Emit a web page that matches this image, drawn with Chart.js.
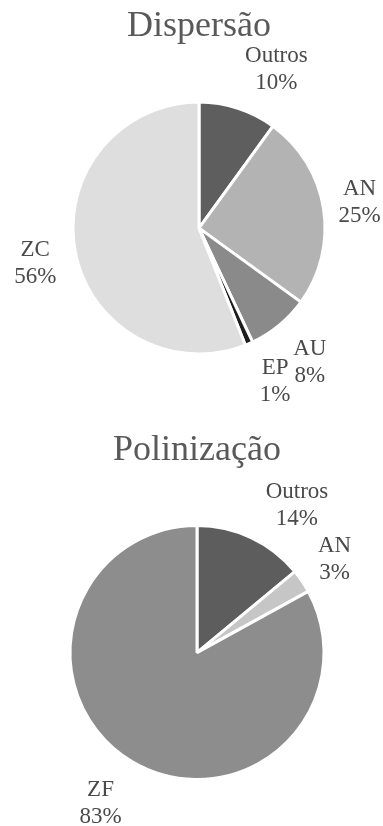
<!DOCTYPE html>
<html lang="pt">
<head>
<meta charset="utf-8">
<title>Dispersão e Polinização</title>
<script src="https://cdn.jsdelivr.net/npm/chart.js@4.4.1/dist/chart.umd.min.js"></script>
<style>
  html, body { margin: 0; padding: 0; background: #ffffff; }
  canvas { display: block; }
</style>
</head>
<body>
<canvas id="dispersao" width="383" height="410"></canvas>
<canvas id="polinizacao" width="383" height="416"></canvas>
<script>
// Síndromes de dispersão (%)
const dispersaoCategorias = ['Outros', 'AN', 'AU', 'EP', 'ZC'];
const dispersaoValores = [10, 25, 8, 1, 56];

// Síndromes de polinização (%)
const polinizacaoCategorias = ['Outros', 'AN', 'ZF'];
const polinizacaoValores = [14, 3, 83];

// Slice fills
const dispersaoCores = ['#5e5e5e', '#b3b3b3', '#8a8a8a', '#1e1e1e', '#dedede'];
const polinizacaoCores = ['#5d5d5d', '#c6c6c6', '#8d8d8d'];

// Label placement: distance from centre (in radii) and angular nudge (degrees)
const dispersaoLabelDist = [1.40, 1.29, 1.38, 1.36, 1.33];
const dispersaoLabelNudge = [8, 0, 0, -3, -1.5];
const polinizacaoLabelDist = [1.40, 1.31, 1.41];
const polinizacaoLabelNudge = [9, 0, 2];

const SERIF = '"Liberation Serif", "Times New Roman", "DejaVu Serif", serif';

// Draws "Name\nNN%" outside each slice
const outsideLabels = {
  id: 'outsideLabels',
  afterDatasetsDraw(chart, args, opts) {
    const ctx = chart.ctx;
    const meta = chart.getDatasetMeta(0);
    const values = chart.data.datasets[0].data;
    ctx.save();
    ctx.font = '23px ' + SERIF;
    ctx.fillStyle = '#4a4a4a';
    ctx.textAlign = 'center';
    ctx.textBaseline = 'middle';
    meta.data.forEach((arc, i) => {
      const p = arc.getProps(['x', 'y', 'startAngle', 'endAngle', 'outerRadius'], true);
      const mid = (p.startAngle + p.endAngle) / 2 + opts.nudge[i] * Math.PI / 180;
      const d = p.outerRadius * opts.dist[i];
      const cx = p.x + Math.cos(mid) * d;
      const cy = p.y + Math.sin(mid) * d;
      ctx.fillText(chart.data.labels[i], cx, cy - 13.5);
      ctx.fillText(values[i] + '%', cx, cy + 13.5);
    });
    ctx.restore();
  }
};

function pieChart(id, titulo, labels, values, colors, radius, padding, titlePad, dist, nudge) {
  return new Chart(document.getElementById(id), {
    type: 'pie',
    data: {
      labels: labels,
      datasets: [{
        data: values,
        backgroundColor: colors,
        borderColor: '#ffffff',
        borderWidth: 3,
        radius: radius
      }]
    },
    options: {
      responsive: false,
      animation: false,
      devicePixelRatio: 1,
      layout: { padding: padding },
      plugins: {
        legend: { display: false },
        tooltip: { enabled: false },
        title: {
          display: true,
          text: titulo,
          color: '#595959',
          font: { family: SERIF, size: 36, weight: 'normal', lineHeight: 1.2 },
          padding: titlePad
        },
        outsideLabels: { dist: dist, nudge: nudge }
      }
    },
    plugins: [outsideLabels]
  });
}

pieChart('dispersao', 'Dispersão', dispersaoCategorias, dispersaoValores, dispersaoCores,
  126, { left: 15, right: 0, top: 0, bottom: 11 }, { top: 5, bottom: 9 },
  dispersaoLabelDist, dispersaoLabelNudge);

pieChart('polinizacao', 'Polinização', polinizacaoCategorias, polinizacaoValores, polinizacaoCores,
  127, { left: 11, right: 0, top: 0, bottom: 2 }, { top: 19, bottom: 9 },
  polinizacaoLabelDist, polinizacaoLabelNudge);
</script>
</body>
</html>
